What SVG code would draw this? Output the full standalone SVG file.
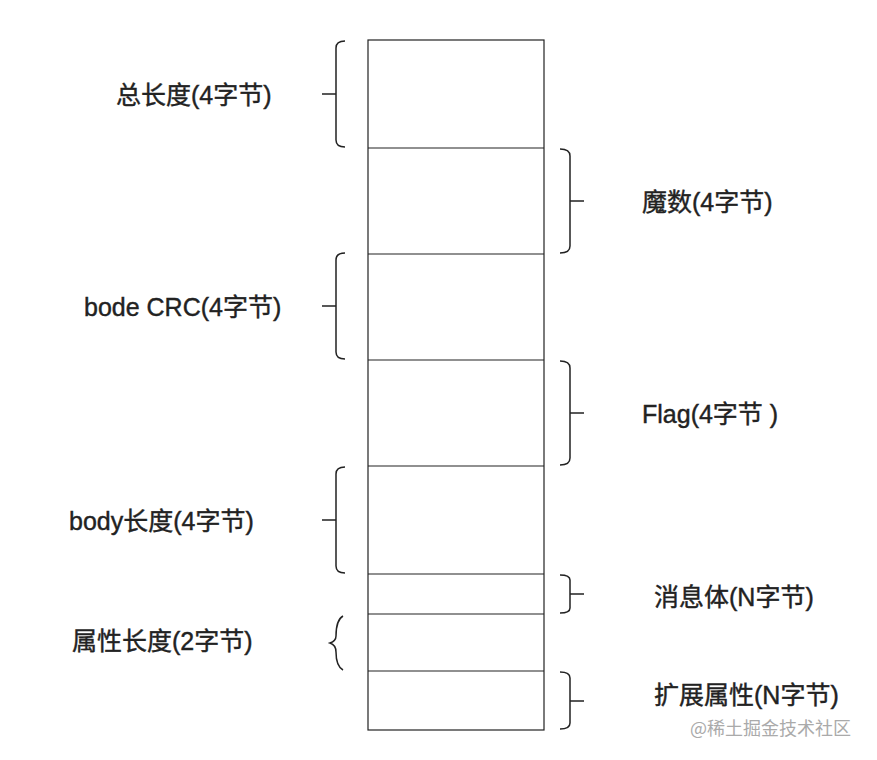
<svg xmlns="http://www.w3.org/2000/svg" width="877" height="760" viewBox="0 0 877 760">
<style>
.b{fill:none;stroke:#222;stroke-width:1.5}
.r{fill:none;stroke:#222;stroke-width:1.2}
.t{font-family:"Liberation Sans","Noto Sans CJK SC",sans-serif;font-size:25px;fill:#222;stroke:#222;stroke-width:0.4}
</style>
<rect width="877" height="760" fill="#fff"/>
<g id="stack">
<rect class="r" x="368" y="40" width="176" height="690"/>
<path class="r" d="M368 148H544M368 254H544M368 360H544M368 466H544M368 574H544M368 614H544M368 671H544"/>
</g>
<g id="connectors">
<path class="b" d="M345 41Q336 41 336 48V140Q336 147 345 147M336 94H322"/>
<path class="b" d="M345 253Q336 253 336 260V352Q336 359 345 359M336 306H322"/>
<path class="b" d="M345 467Q336 467 336 474V566Q336 573 345 573M336 520H322"/>
<path class="b" d="M343 616Q336 620 336 636Q336 641 330 643Q336 645 336 652Q336 666 343 670"/>
<path class="b" d="M560 149Q570 149 570 156V246Q570 253 560 253M570 201H584"/>
<path class="b" d="M560 361Q570 361 570 368V458Q570 465 560 465M570 413H584"/>
<path class="b" d="M560 575Q570 575 570 580V608Q570 613 560 613M570 594H584"/>
<path class="b" d="M560 672Q570 672 570 678V723Q570 729 560 729M570 701H584"/>
</g>
<g id="labels">
<text class="t" x="116" y="104">总长度(4字节)</text>
<text class="t" x="642" y="211">魔数(4字节)</text>
<text class="t" x="84" y="316">bode CRC(4字节)</text>
<text class="t" x="642" y="423">Flag(4字节 )</text>
<text class="t" x="69" y="530">body长度(4字节)</text>
<text class="t" x="654" y="606">消息体(N字节)</text>
<text class="t" x="72" y="650">属性长度(2字节)</text>
<text class="t" x="654" y="704">扩展属性(N字节)</text>
<text x="690" y="735" style="font-family:'Noto Sans CJK SC',sans-serif;font-size:18px;fill:#aaa">@稀土掘金技术社区</text>
</g>
</svg>
